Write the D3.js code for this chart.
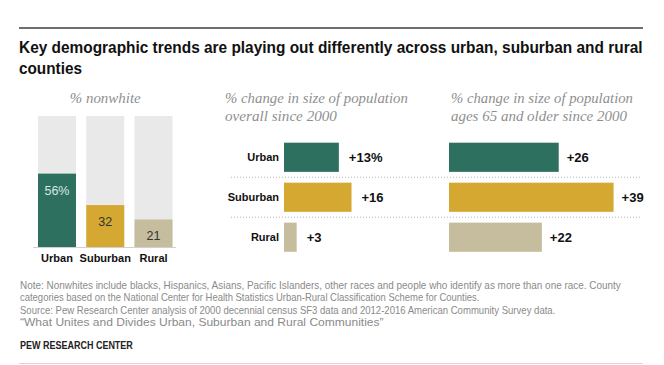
<!DOCTYPE html>
<html><head><meta charset="utf-8">
<script src="https://cdn.jsdelivr.net/npm/d3@7"></script>
<style>
html,body{margin:0;padding:0;background:#fff;}
svg{display:block;}
</style></head>
<body>
<script>
// ---- data ----
const categories = ["Urban", "Suburban", "Rural"];
const nonwhite = [56, 32, 21];
const popChange = [13, 16, 3];
const olderChange = [26, 39, 22];
const nonwhiteLabels = ["56%", "32", "21"];
const popLabels = ["+13%", "+16", "+3"];
const olderLabels = ["+26", "+39", "+22"];
const colors = ["#2e7060", "#d5a832", "#c5bd9d"];
const titleLines = ["Key demographic trends are playing out differently across urban, suburban and rural", "counties"];
const panelTitles = [["% nonwhite"], ["% change in size of population", "overall since 2000"], ["% change in size of population", "ages 65 and older since 2000"]];
const notes = [
  "Note: Nonwhites include blacks, Hispanics, Asians, Pacific Islanders, other races and people who identify as more than one race. County",
  "categories based on the National Center for Health Statistics Urban-Rural Classification Scheme for Counties.",
  "Source: Pew Research Center analysis of 2000 decennial census SF3 data and 2012-2016 American Community Survey data.",
  "\u201cWhat Unites and Divides Urban, Suburban and Rural Communities\u201d"
];
const sourceLabel = "PEW RESEARCH CENTER";

const W = 664, H = 365;
const svg = d3.select("body").append("svg").attr("width", W).attr("height", H);
const sans = "'Liberation Sans',Arial,sans-serif";
const serif = "Georgia,'Liberation Serif','Times New Roman',serif";

// draw text compressed horizontally to a target width
function fitText(x, y, str, width, attrs) {
  const g = svg.append("g");
  const t = g.append("text").attr("x", 0).attr("y", 0).text(str);
  Object.entries(attrs).forEach(([k, v]) => t.attr(k, v));
  const nat = t.node().getComputedTextLength();
  const s = width / nat;
  g.attr("transform", `translate(${x},${y}) scale(${s},1)`);
  return t;
}

// top rule
svg.append("line").attr("x1", 19).attr("x2", 643).attr("y1", 28).attr("y2", 28)
  .attr("stroke", "#6f6f6f").attr("stroke-width", 2);

// title
const titleY = [53, 74], titleW = [624, 63];
titleLines.forEach((t, i) => {
  fitText(19, titleY[i], t, titleW[i], {"font-family": sans, "font-weight": "bold", "font-size": 17, "fill": "#111"});
});

// ---- left panel: % nonwhite ----
const xL = d3.scaleBand().domain(categories).range([38, 172.5]).paddingInner(0.213).paddingOuter(0);
const yL = d3.scaleLinear().domain([0, 100]).range([247, 116]);
const gL = svg.append("g");
gL.selectAll("rect.bg").data(categories).join("rect").attr("class", "bg")
  .attr("x", d => xL(d)).attr("width", xL.bandwidth())
  .attr("y", yL(100)).attr("height", yL(0) - yL(100)).attr("fill", "#e9e9e9");
gL.selectAll("rect.val").data(categories).join("rect").attr("class", "val")
  .attr("x", d => xL(d)).attr("width", xL.bandwidth())
  .attr("y", (d, i) => yL(nonwhite[i])).attr("height", (d, i) => yL(0) - yL(nonwhite[i]))
  .attr("fill", (d, i) => colors[i]);
gL.selectAll("text.in").data(categories).join("text").attr("class", "in")
  .attr("x", d => xL(d) + xL.bandwidth() / 2).attr("y", (d, i) => yL(nonwhite[i]) + 21)
  .attr("text-anchor", "middle").attr("font-family", sans).attr("font-size", 12.5)
  .attr("fill", (d, i) => i === 0 ? "#d9e8e2" : "#333").text((d, i) => nonwhiteLabels[i]);
gL.append("line").attr("x1", 33).attr("x2", 176).attr("y1", yL(0) + 0.5).attr("y2", yL(0) + 0.5)
  .attr("stroke", "#d0d0d0").attr("stroke-width", 1);
gL.selectAll("text.cat").data(categories).join("text").attr("class", "cat")
  .attr("x", d => xL(d) + xL.bandwidth() / 2).attr("y", 262)
  .attr("text-anchor", "middle").attr("font-family", sans).attr("font-weight", "bold")
  .attr("font-size", 11).attr("fill", "#111").text(d => d);
fitText(xL(categories[1]) + xL.bandwidth() / 2 - 35.5, 103, panelTitles[0][0], 71,
  {"font-family": serif, "font-style": "italic", "font-size": 14.5, "fill": "#8f8f8f"});

// ---- horizontal panels ----
const yB = d3.scaleBand().domain(categories).range([137.5, 257]).paddingInner(0.27).paddingOuter(0.13);
const xScale = d3.scaleLinear().domain([0, 10]).range([0, 42.2]);

// dotted separators
[0, 1].forEach(i => {
  const y = (yB(categories[i]) + yB.bandwidth() + yB(categories[i + 1])) / 2;
  svg.append("line").attr("x1", 231).attr("x2", 642).attr("y1", y).attr("y2", y)
    .attr("stroke", "#b5b5b5").attr("stroke-width", 1).attr("stroke-dasharray", "1,2");
});

function hPanel(x0, vals, labels, gap, showCats) {
  const g = svg.append("g");
  g.selectAll("rect").data(categories).join("rect")
    .attr("x", x0).attr("y", d => yB(d)).attr("height", yB.bandwidth())
    .attr("width", (d, i) => xScale(vals[i])).attr("fill", (d, i) => colors[i]);
  g.selectAll("text.v").data(categories).join("text").attr("class", "v")
    .attr("x", (d, i) => x0 + xScale(vals[i]) + gap).attr("y", d => yB(d) + yB.bandwidth() / 2 + 4.5)
    .attr("font-family", sans).attr("font-weight", "bold").attr("font-size", 13)
    .attr("fill", "#111").text((d, i) => labels[i]);
  if (showCats) {
    g.selectAll("text.c").data(categories).join("text").attr("class", "c")
      .attr("x", x0 - 5).attr("y", d => yB(d) + yB.bandwidth() / 2 + 4)
      .attr("text-anchor", "end").attr("font-family", sans).attr("font-weight", "bold")
      .attr("font-size", 11).attr("fill", "#111").text(d => d);
  }
}
hPanel(284, popChange, popLabels, 10, true);
hPanel(449, olderChange, olderLabels, 8, false);

// panel titles
const ptX = [225, 451];
const ptW = [[183, 112], [182, 176]];
[1, 2].forEach((p, k) => {
  panelTitles[p].forEach((t, j) => {
    fitText(ptX[k], 103 + j * 17.5, t, ptW[k][j],
      {"font-family": serif, "font-style": "italic", "font-size": 14.5, "fill": "#8f8f8f"});
  });
});

// notes
const noteW = [601, 460, 536, 364];
notes.forEach((t, i) => {
  fitText(20, 289 + i * 12.3, t, noteW[i], {"font-family": sans, "font-size": 10.5, "fill": "#8a8a8a"});
});
fitText(20, 349, sourceLabel, 113, {"font-family": sans, "font-weight": "bold", "font-size": 10, "fill": "#222"});

svg.append("line").attr("x1", 19).attr("x2", 643).attr("y1", 363.5).attr("y2", 363.5)
  .attr("stroke", "#d8d8d8").attr("stroke-width", 1);
</script>
</body></html>
